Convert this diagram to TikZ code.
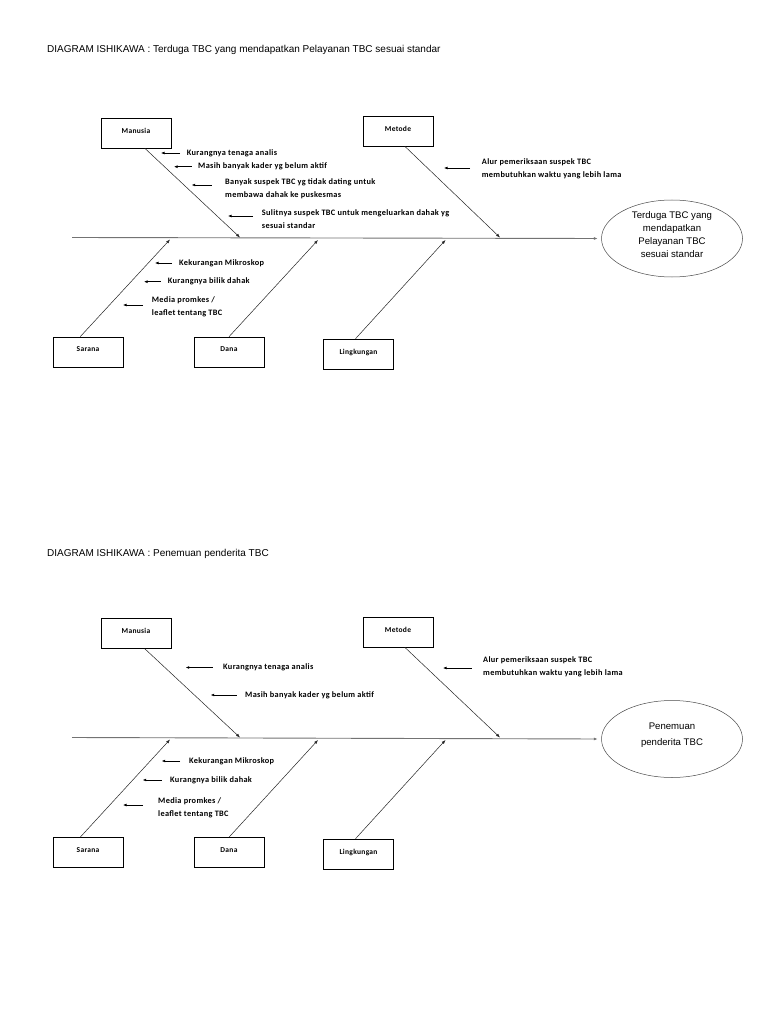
\documentclass[tikz,border=0pt]{standalone}
\usepackage{fontspec}
\setmainfont{Liberation Sans}
\newfontfamily\lblfont[LetterSpace=4]{Carlito}
\usetikzlibrary{arrows.meta, shapes.geometric, positioning}

\begin{document}
\begin{tikzpicture}[x=1pt, y=-1pt]
	\tikzstyle{catbox}=[rectangle, draw=black, line width=0.6pt, minimum width=70pt, minimum height=30pt, text depth=5pt, font=\lblfont\bfseries\fontsize{7.5}{9}\selectfont]
	\tikzstyle{effect}=[ellipse, draw=black!70, line width=0.5pt, minimum width=141pt, minimum height=77pt, inner sep=0pt]
	\tikzstyle{efftext}=[inner sep=0pt, align=center, font=\fontsize{9.6}{13}\selectfont]
	\tikzstyle{cause}=[anchor=west, inner sep=0pt, align=left, font=\lblfont\bfseries\fontsize{8.3}{12.8}\selectfont]
	\tikzstyle{title}=[anchor=west, inner sep=0pt, font=\fontsize{10}{12}\selectfont]
	\tikzstyle{bone}=[draw=black!85, line width=0.5pt, -{Latex[length=4pt,width=3pt]}]
	\tikzstyle{spine}=[draw=black!55, line width=0.9pt, -{Latex[length=4pt,width=3pt]}]
	\tikzstyle{ptr}=[draw=black, line width=0.6pt, -{Latex[length=3.5pt,width=2.8pt]}]
	\useasboundingbox[fill=white] (0,0) rectangle (768,1024);

	% first diagram
	\node[title] (t1) at (47,50) {DIAGRAM ISHIKAWA : Terduga TBC yang mendapatkan Pelayanan TBC sesuai standar};
	\node[catbox] (man) at (136,133) {Manusia};
	\node[catbox] (met) at (398,131) {Metode};
	\node[catbox] (sar) at (88,352) {Sarana};
	\node[catbox] (dan) at (229,352) {Dana};
	\node[catbox] (lin) at (358.5,354) {Lingkungan};
	\node[effect] (eff) at (672,238.5) {};
	\node[efftext] (effl) at ([yshift=3.5pt]eff.center) {Terduga TBC yang\\mendapatkan\\Pelayanan TBC\\sesuai standar};

	\coordinate (tail) at (72,237.5);
	\coordinate (mant) at (240,237.5);
	\coordinate (mett) at (500,237.5);
	\coordinate (sart) at (170,239.5);
	\coordinate (dant) at (318,240);
	\coordinate (lint) at (445.5,240);
	\draw[spine, shorten >=3.5pt] (tail) -- (eff.west);
	\draw[bone] (man.-60) -- (mant);
	\draw[bone] (met.-66) -- (mett);
	\draw[bone] (sar.117) -- (sart);
	\draw[bone] (dan.north) -- (dant);
	\draw[bone] (lin.101) -- (lint);

	\node[cause] (m1) at (186.7,153) {Kurangnya tenaga analis};
	\node[cause] (m2) at (198,166.7) {Masih banyak kader yg belum aktif};
	\node[cause] (m3) at (225,188.5) {Banyak suspek TBC yg tidak dating untuk\\membawa dahak ke puskesmas};
	\node[cause] (m4) at (261.7,219.5) {Sulitnya suspek TBC untuk mengeluarkan dahak yg\\sesuai standar};
	\node[cause] (e1) at (481.7,168.4) {Alur pemeriksaan suspek TBC\\membutuhkan waktu yang lebih lama};
	\node[cause] (s1) at (179,263) {Kekurangan Mikroskop};
	\node[cause] (s2) at (167.7,281.7) {Kurangnya bilik dahak};
	\node[cause] (s3) at (151.7,306.4) {Media promkes /\\leaflet tentang TBC};

	\coordinate (m1a) at (180,153);   \coordinate (m1b) at (161,153);
	\coordinate (m2a) at (191.7,166.7); \coordinate (m2b) at (174,166.7);
	\coordinate (m3a) at (211.7,185); \coordinate (m3b) at (191.7,185);
	\coordinate (m4a) at (253,216);   \coordinate (m4b) at (228,216);
	\coordinate (e1a) at (470,168);   \coordinate (e1b) at (444,168);
	\coordinate (s1a) at (172,263);   \coordinate (s1b) at (155,263);
	\coordinate (s2a) at (160.7,281.7); \coordinate (s2b) at (144,281.7);
	\coordinate (s3a) at (143,305);   \coordinate (s3b) at (123,305);
	\foreach \c in {m1,m2,m3,m4,e1,s1,s2,s3}
		\draw[ptr] (\c a) -- (\c b);

	% second diagram
	\begin{scope}[shift={(0,500)}]
	\node[title] (t2) at (47,54) {DIAGRAM ISHIKAWA : Penemuan penderita TBC};
	\node[catbox] (bman) at (136,133.5) {Manusia};
	\node[catbox] (bmet) at (398,132) {Metode};
	\node[catbox] (bsar) at (88,352.5) {Sarana};
	\node[catbox] (bdan) at (229,352.5) {Dana};
	\node[catbox] (blin) at (358.5,354) {Lingkungan};
	\node[effect] (beff) at (672,239) {};
	\node[efftext] (beffl) at ([yshift=4pt]beff.center) {Penemuan\\[3pt]penderita TBC};

	\coordinate (btail) at (72,237.5);
	\coordinate (bmant) at (240,237.5);
	\coordinate (bmett) at (500,237.5);
	\coordinate (bsart) at (170,239.5);
	\coordinate (bdant) at (318,240);
	\coordinate (blint) at (445.5,240);
	\draw[spine, shorten >=3.5pt] (btail) -- (beff.west);
	\draw[bone] (bman.-60) -- (bmant);
	\draw[bone] (bmet.-66) -- (bmett);
	\draw[bone] (bsar.117) -- (bsart);
	\draw[bone] (bdan.north) -- (bdant);
	\draw[bone] (blin.101) -- (blint);

	\node[cause] (bm1) at (223,167.5) {Kurangnya tenaga analis};
	\node[cause] (bm2) at (245,195) {Masih banyak kader yg belum aktif};
	\node[cause] (be1) at (483,167) {Alur pemeriksaan suspek TBC\\membutuhkan waktu yang lebih lama};
	\node[cause] (bs1) at (189,261) {Kekurangan Mikroskop};
	\node[cause] (bs2) at (170,280) {Kurangnya bilik dahak};
	\node[cause] (bs3) at (158,307.4) {Media promkes /\\leaflet tentang TBC};

	\coordinate (bm1a) at (212.7,167.5); \coordinate (bm1b) at (185.7,167.5);
	\coordinate (bm2a) at (236.7,195);   \coordinate (bm2b) at (210.7,195);
	\coordinate (be1a) at (471.7,168);   \coordinate (be1b) at (443,168);
	\coordinate (bs1a) at (180,261);     \coordinate (bs1b) at (161.7,261);
	\coordinate (bs2a) at (161.7,280);   \coordinate (bs2b) at (142.7,280);
	\coordinate (bs3a) at (143,305);     \coordinate (bs3b) at (123,305);
	\foreach \c in {bm1,bm2,be1,bs1,bs2,bs3}
		\draw[ptr] (\c a) -- (\c b);
	\end{scope}
\end{tikzpicture}
\end{document}
